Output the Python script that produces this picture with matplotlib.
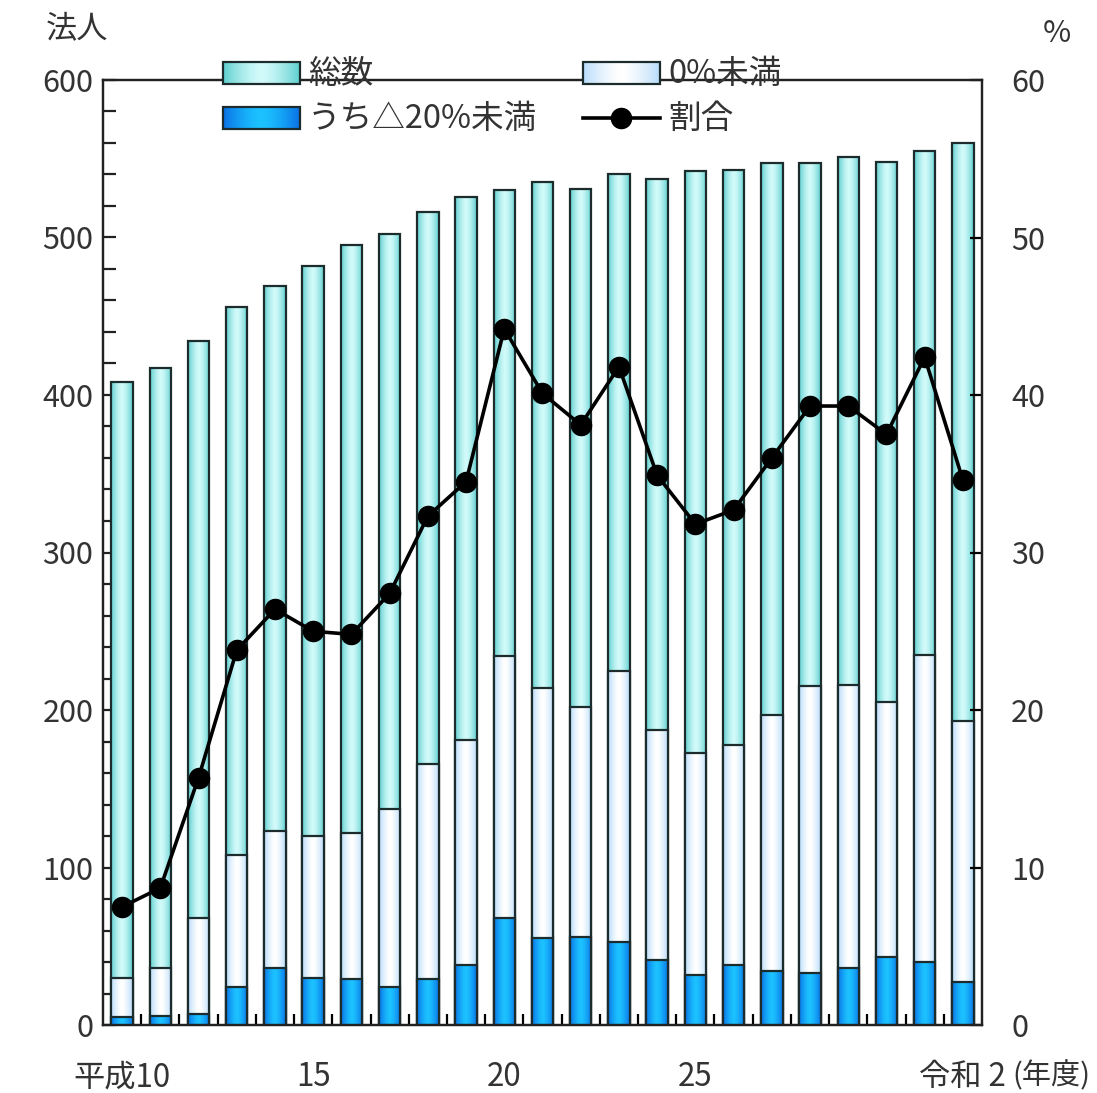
import numpy as np
import matplotlib
matplotlib.use("Agg")
import matplotlib.pyplot as plt
from matplotlib.patches import Rectangle

plt.rcParams['font.family'] = ['Noto Sans CJK JP', 'DejaVu Sans']

# data (平成10 .. 令和2)
years = list(range(23))
total = [408, 417, 434, 456, 469, 482, 495, 502, 516, 526, 530, 535, 531,
         540, 537, 542, 543, 547, 547, 551, 548, 555, 560]
below0 = [30, 36, 68, 108, 123, 120, 122, 137, 166, 181, 234, 214, 202,
          225, 187, 173, 178, 197, 215, 216, 205, 235, 193]
below20 = [5, 6, 7, 24, 36, 30, 29, 24, 29, 38, 68, 55, 56,
           53, 41, 32, 38, 34, 33, 36, 43, 40, 27]
ratio = [7.5, 8.7, 15.7, 23.8, 26.4, 25.0, 24.8, 27.4, 32.3, 34.5, 44.2, 40.1, 38.1,
         41.8, 34.9, 31.8, 32.7, 36.0, 39.3, 39.3, 37.5, 42.4, 34.6]
tick_pos = [0, 5, 10, 15, 22]
tick_lab = ['平成10', '15', '20', '25', '令和 2']

# gradient colours: (edge, centre)
col_total = ('#5fd0cf', '#d2fafa')
col_below0 = ('#b8dcfb', '#ffffff')
col_below20 = ('#0a72e6', '#1cc2ff')
edge_col = '#1c2b2b'
txt_col = '#333333'


def gradient(edge, centre, n=64):
    e = np.array(matplotlib.colors.to_rgb(edge))
    c = np.array(matplotlib.colors.to_rgb(centre))
    t = np.abs(np.linspace(-1, 1, n)) ** 1.5
    g = c[None, :] * (1 - t[:, None]) + e[None, :] * t[:, None]
    return g[None, :, :]


def grad_bars(ax, x, h, cols, width=0.56, zo=2):
    bars = ax.bar(x, h, width=width, facecolor='none', edgecolor=edge_col,
                  linewidth=1.6, zorder=zo + 0.5)
    img = gradient(*cols)
    for b in bars:
        x0, y0 = b.get_x(), b.get_y()
        im = ax.imshow(img, extent=[x0, x0 + b.get_width(), y0, y0 + b.get_height()],
                       aspect='auto', zorder=zo, interpolation='bilinear')
        clip = Rectangle((x0, y0), b.get_width(), b.get_height(), transform=ax.transData)
        im.set_clip_path(clip)
    return bars


W, H = 1097, 1093
fig = plt.figure(figsize=(W / 100, H / 100), dpi=100)
ax = fig.add_axes([103 / W, 1 - 1025 / H, 879 / W, 945 / H])
ax.set_autoscale_on(False)
ax.set_xlim(-0.5, 22.5)
ax.set_ylim(0, 600)

grad_bars(ax, years, total, col_total, zo=2)
grad_bars(ax, years, below0, col_below0, zo=3)
grad_bars(ax, years, below20, col_below20, zo=4)

ax.set_xlim(-0.5, 22.5)
ax.set_ylim(0, 600)
ax.set_yticks(range(0, 601, 100))
ax.set_yticks(range(0, 601, 20), minor=True)
ax.tick_params(axis='y', which='both', direction='in', length=9, width=1.6,
               labelsize=22, pad=7, colors='#222222', labelcolor=txt_col)
ax.set_xticks(tick_pos)
ax.set_xticklabels(tick_lab)
ax.set_xticks(np.arange(0.5, 22, 1), minor=True)
ax.tick_params(axis='x', which='major', length=0, labelsize=22.5, pad=26,
               labelcolor=txt_col)
ax.tick_params(axis='x', which='minor', direction='in', length=8, width=1.6)
for s in ax.spines.values():
    s.set_linewidth(1.6)
    s.set_color('#222222')

ax2 = ax.twinx()
ax2.set_ylim(0, 60)
ax2.plot(years, ratio, color='black', linewidth=2.6, marker='o', markersize=14.5,
         zorder=6)
ax2.set_yticks(range(0, 61, 10))
ax2.tick_params(axis='y', direction='in', length=9, width=1.6, labelsize=22,
                pad=21, labelcolor=txt_col)
for s in ax2.spines.values():
    s.set_linewidth(1.6)
    s.set_color('#222222')

# overlay in pixel coordinates for titles and legend
ov = fig.add_axes([0, 0, 1, 1], zorder=10)
ov.set_xlim(0, W)
ov.set_ylim(H, 0)
ov.axis('off')
ov.patch.set_alpha(0)

ov.text(77, 29, '法人', fontsize=22.5, ha='center', va='center', color=txt_col)
ov.text(1057, 34, '%', fontsize=22, ha='center', va='center', color=txt_col)
ov.text(1012, 1076, '(年度)', fontsize=21, ha='left', va='center', color=txt_col)


def legend_patch(x0, y0, x1, y1, cols, label):
    ov.imshow(gradient(*cols), extent=[x0, x1, y1, y0], aspect='auto',
              interpolation='bilinear', zorder=1)
    ov.add_patch(Rectangle((x0, y0), x1 - x0, y1 - y0, facecolor='none',
                           edgecolor=edge_col, linewidth=1.6, zorder=2))
    ov.text(x1 + 8, (y0 + y1) / 2 + 1, label, fontsize=23.5, ha='left', va='center',
            color=txt_col)


legend_patch(223, 62, 300, 84, col_total, '総数')
legend_patch(223, 107, 300, 129, col_below20, 'うち△20%未満')
legend_patch(583, 62, 660, 84, col_below0, '0%未満')
ov.plot([583, 660], [118, 118], color='black', linewidth=2.6)
ov.plot([621], [118], 'o', color='black', markersize=14.5)
ov.text(668, 119, '割合', fontsize=23.5, ha='left', va='center', color=txt_col)
ov.set_xlim(0, W)
ov.set_ylim(H, 0)

fig.savefig('out.png', dpi=100)
